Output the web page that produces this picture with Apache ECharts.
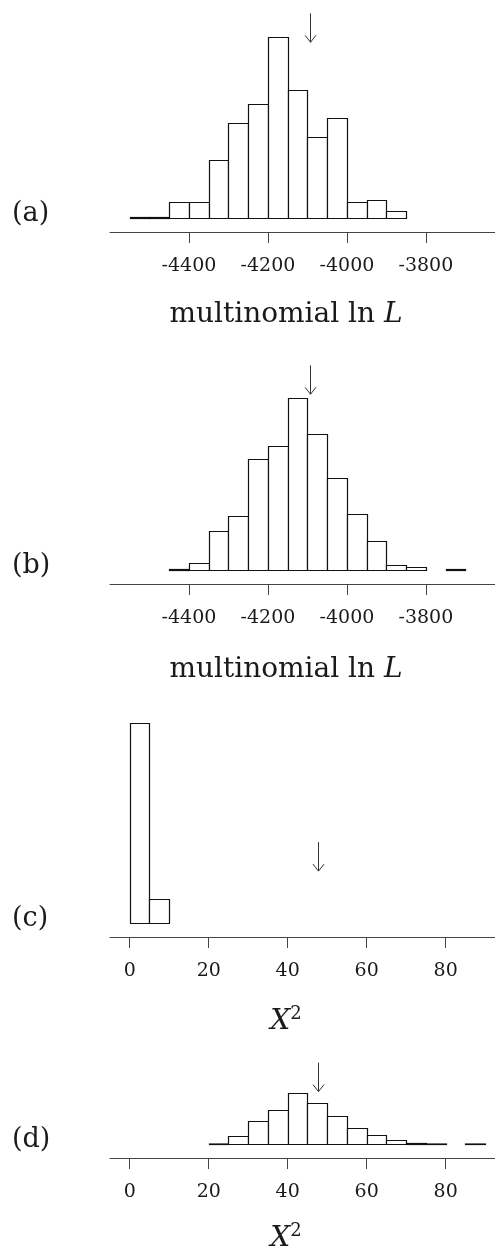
<!DOCTYPE html>
<html>
<head>
<meta charset="utf-8">
<script src="https://cdn.jsdelivr.net/npm/echarts@6/dist/echarts.min.js"></script>
<style>
  html, body { margin: 0; padding: 0; background: #fff; }
  #chart { width: 495px; height: 1253px; }
</style>
</head>
<body>
<div id="chart"></div>
<script>
// histogram counts (1000 simulations per panel)
const lnLBinWidth = 50;
const x2BinWidth = 5;
const startA = -4550;
const countsA = [1, 1, 19, 19, 70, 114, 137, 218, 154, 98, 121, 19, 22, 9];
const startB = -4450;
const countsB = [1, 9, 47, 65, 134, 149, 208, 164, 111, 67, 35, 6, 4, 0, 1];
const startC = 0;
const countsC = [894, 106];
const startD = 20;
const countsD = [1, 36, 106, 157, 236, 193, 131, 75, 42, 17, 6, 2, 0, 1];

// observed values (arrows)
const observedLnL = -4093;
const observedX2 = 47.7;

const ticksLnL = [-4400, -4200, -4000, -3800];
const ticksX2 = [0, 20, 40, 60, 80];
const panelLabels = ["(a)", "(b)", "(c)", "(d)"];

const serif = "DejaVu Serif";
const ink = "#1a1a1a";

function toBins(start, width, counts) {
  const out = [];
  counts.forEach(function (c, i) {
    if (c > 0) out.push([start + i * width, start + (i + 1) * width, c]);
  });
  return out;
}

const panels = [
  { bins: toBins(startA, lnLBinWidth, countsA), obs: observedLnL, arrowAt: 212, baseline: 218, ppc: 0.829, yMax: 262, xMin: -4600, xMax: -3625, ticks: ticksLnL, gap: 66, lnL: true },
  { bins: toBins(startB, lnLBinWidth, countsB), obs: observedLnL, arrowAt: 212, baseline: 570, ppc: 0.829, yMax: 262, xMin: -4600, xMax: -3625, ticks: ticksLnL, gap: 69, lnL: true },
  { bins: toBins(startC, x2BinWidth, countsC), obs: observedX2, arrowAt: 232, baseline: 923, ppc: 0.2237, yMax: 950, xMin: -5, xMax: 92.5, ticks: ticksX2, gap: 68, lnL: false },
  { bins: toBins(startD, x2BinWidth, countsD), obs: observedX2, arrowAt: 244, baseline: 1144, ppc: 0.2147, yMax: 390, xMin: -5, xMax: 92.5, ticks: ticksX2, gap: 64, lnL: false }
];

function barItem(params, api) {
  const a = api.coord([api.value(0), 0]);
  const b = api.coord([api.value(1), api.value(2)]);
  const x0 = Math.round(a[0]) + 0.5;
  const x1 = Math.round(b[0]) + 0.5;
  const y0 = Math.round(a[1]) + 0.5;
  const y1 = Math.min(Math.round(b[1]) + 0.5, y0 - 0.5);
  return {
    type: "rect",
    shape: { x: x0, y: y1, width: x1 - x0, height: y0 - y1 },
    style: { fill: "#fff", stroke: "#111", lineWidth: 1.2 }
  };
}

function arrowItem(params, api) {
  const p = api.coord([api.value(0), api.value(1)]);
  const x = Math.round(p[0]) + 0.5;
  const y = p[1];
  return {
    type: "group",
    children: [
      { type: "line", shape: { x1: x, y1: y - 29, x2: x, y2: y }, style: { stroke: "#333", lineWidth: 1 } },
      { type: "polyline", shape: { points: [[x - 5.5, y - 7], [x, y], [x + 5.5, y - 7]] }, style: { stroke: "#333", fill: null, lineWidth: 1 } }
    ]
  };
}

const grid = [], xAxis = [], yAxis = [], series = [], graphic = [];

panels.forEach(function (p, i) {
  const h = p.yMax * p.ppc;
  grid.push({ left: 110, right: 0, top: p.baseline - h, height: h, containLabel: false, outerBoundsMode: "none" });
  xAxis.push({
    gridIndex: i,
    type: "value",
    min: p.xMin,
    max: p.xMax,
    offset: 14,
    splitLine: { show: false },
    axisLine: { show: true, onZero: false, lineStyle: { color: "#444", width: 1 } },
    axisTick: { show: true, length: 11, customValues: p.ticks, lineStyle: { color: "#444", width: 1 } },
    axisLabel: {
      customValues: p.ticks,
      margin: 25,
      fontFamily: serif,
      fontSize: 19,
      color: ink,
      formatter: function (v) { return String(v); }
    },
    name: p.lnL ? "{n|multinomial ln }{i|L}" : "{i|X}{s|2}",
    nameLocation: "middle",
    nameGap: p.gap,
    nameTextStyle: {
      padding: [0, 33, 0, 0],
      rich: {
        n: { fontFamily: serif, fontSize: 28, color: ink },
        i: { fontFamily: serif, fontSize: 28, fontStyle: "italic", color: ink, lineHeight: 34 },
        s: { fontFamily: serif, fontSize: 18, color: ink, verticalAlign: "top" }
      }
    }
  });
  yAxis.push({ gridIndex: i, type: "value", min: 0, max: p.yMax, show: false });
  series.push({
    type: "custom",
    xAxisIndex: i,
    yAxisIndex: i,
    renderItem: barItem,
    encode: { x: [0, 1], y: 2 },
    data: p.bins,
    silent: true
  });
  series.push({
    type: "custom",
    xAxisIndex: i,
    yAxisIndex: i,
    renderItem: arrowItem,
    encode: { x: 0, y: 1 },
    data: [[p.obs, p.arrowAt]],
    silent: true
  });
  graphic.push({
    type: "text",
    x: 12,
    y: p.baseline - 4,
    style: { text: panelLabels[i], fontFamily: serif, fontSize: 27, fill: ink, verticalAlign: "middle" }
  });
});

const myChart = echarts.init(document.getElementById("chart"));
myChart.setOption({
  animation: false,
  backgroundColor: "#fff",
  grid: grid,
  xAxis: xAxis,
  yAxis: yAxis,
  series: series,
  graphic: graphic
});
</script>
</body>
</html>
